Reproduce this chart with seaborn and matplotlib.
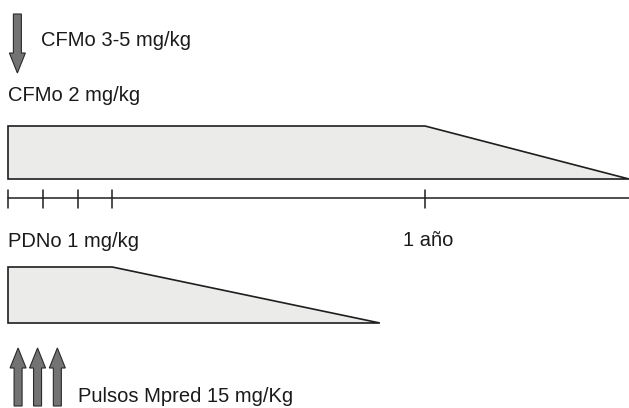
import matplotlib.pyplot as plt
import seaborn as sns
import pandas as pd
from matplotlib.patches import FancyArrow

# linea de tiempo en meses
tick_months = [0, 1, 2, 3, 12]
tick_labels = {12: "1 año"}
timeline_end = 17.87

# esquemas de dosis: mes inicio, fin de meseta, fin de descenso
cfm_months = [0, 12, 17.87]
pdn_months = [0, 3, 10.7]

# pulsos de metilprednisolona (meses)
pulse_months = [0.29, 0.85, 1.42]
cfm_bolus_month = [0.27]

labels = {
    "bolus": "CFMo 3-5 mg/kg",
    "cfm": "CFMo 2 mg/kg",
    "pdn": "PDNo 1 mg/kg",
    "pulse": "Pulsos Mpred 15 mg/Kg",
}

PX = 34.75  # pixeles por mes
X0 = 8


def mx(px):
    return (px - X0) / PX


sns.set_theme(style="white")
plt.rcParams['font.family'] = ['Liberation Sans', 'DejaVu Sans']

fig = plt.figure(figsize=(6.29, 4.08), dpi=100)
ax = fig.add_axes([0, 0, 1, 1])
ax.set_xlim(mx(0), mx(629))
ax.set_ylim(408, 0)
ax.axis('off')

fill_c = '#ebecea'
edge_c = '#1e1e1e'
arrow_c = '#737373'


def dose_shape(months, top, bottom):
    start, plateau, end = months
    xs = [start, start, plateau, end, start]
    ys = [bottom, top, top, bottom, bottom]
    ax.fill(xs, ys, facecolor=fill_c, edgecolor=edge_c, linewidth=1.2)


dose_shape(cfm_months, 126, 179)
dose_shape(pdn_months, 267, 323)

# linea de tiempo
tl = pd.DataFrame({"mes": [0, timeline_end], "y": [198, 198]})
sns.lineplot(data=tl, x="mes", y="y", ax=ax, color=edge_c, linewidth=1.1)
for m in tick_months:
    ax.plot([m, m], [190, 208], color=edge_c, linewidth=1.1)
    if m in tick_labels:
        ax.text(m - mx(X0 + 22), 246, tick_labels[m], fontsize=14.5,
                va='baseline', ha='left', color='#1a1a1a')

# flechas
aw, hw, hl = mx(X0 + 8), mx(X0 + 16), 20
for m in cfm_bolus_month:
    ax.add_patch(FancyArrow(m, 14, 0, 59, width=aw, head_width=hw,
                            head_length=hl, length_includes_head=True,
                            facecolor=arrow_c, edgecolor='#2a2a2a', linewidth=0.8))
for m in pulse_months:
    ax.add_patch(FancyArrow(m, 406, 0, -58, width=aw, head_width=hw,
                            head_length=hl, length_includes_head=True,
                            facecolor=arrow_c, edgecolor='#2a2a2a', linewidth=0.8))

txt = dict(fontsize=14.5, va='baseline', ha='left', color='#1a1a1a')
ax.text(mx(41), 46, labels["bolus"], **txt)
ax.text(mx(8), 101, labels["cfm"], **txt)
ax.text(mx(8), 247, labels["pdn"], **txt)
ax.text(mx(78), 402, labels["pulse"], **txt)

fig.savefig("out.png", dpi=100)
